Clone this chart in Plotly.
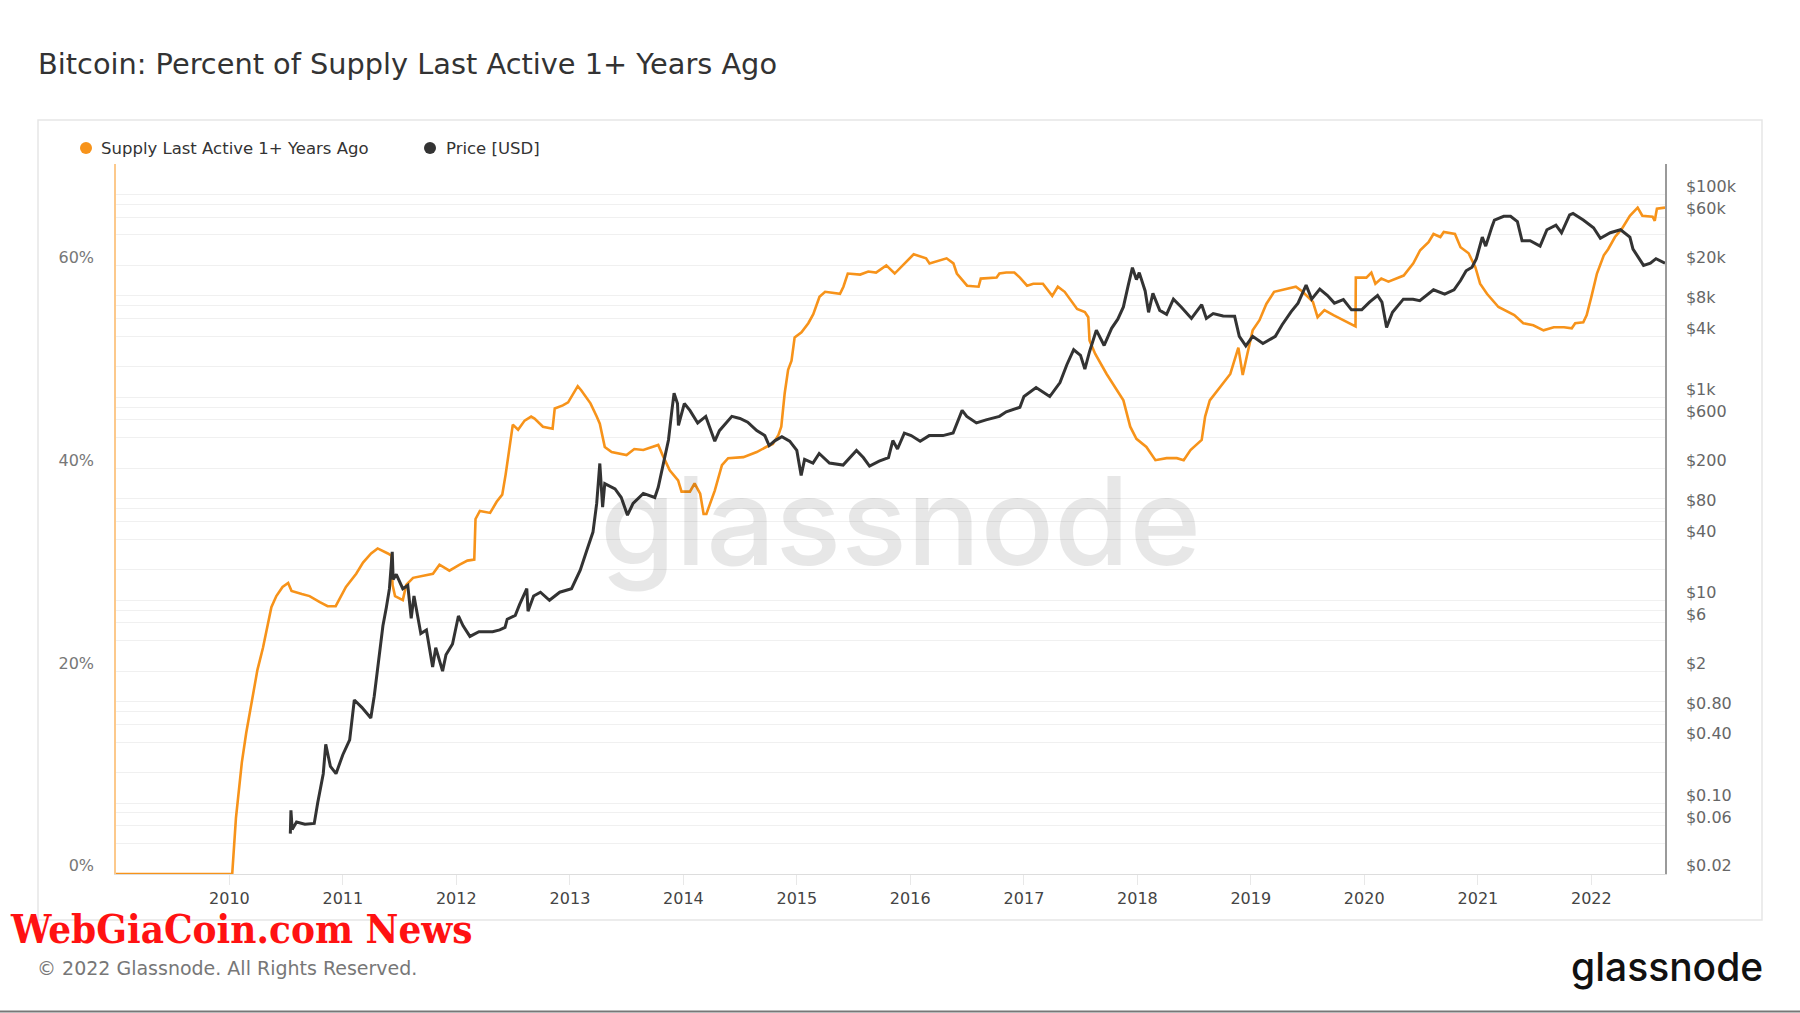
import plotly.graph_objects as go
import math

# ---------------- data ----------------
supply_points = [
    ("2009-01-01", 0.0), ("2010-01-10", 0.0), ("2010-01-22", 5.5), ("2010-02-10", 11.0), ("2010-02-24", 13.9),
    ("2010-03-17", 17.5), ("2010-04-01", 20.1), ("2010-04-19", 22.3), ("2010-05-05", 24.5), ("2010-05-16", 26.3),
    ("2010-06-01", 27.4), ("2010-06-21", 28.3), ("2010-07-09", 28.7), ("2010-07-20", 27.9), ("2010-08-22", 27.6),
    ("2010-09-16", 27.4), ("2010-10-19", 26.8), ("2010-11-13", 26.4), ("2010-12-09", 26.4), ("2011-01-11", 28.3),
    ("2011-02-13", 29.6), ("2011-03-07", 30.7), ("2011-04-02", 31.6), ("2011-04-23", 32.1), ("2011-05-26", 31.6),
    ("2011-06-06", 31.4), ("2011-06-10", 28.5), ("2011-06-18", 27.4), ("2011-07-13", 27.0), ("2011-07-24", 28.5),
    ("2011-08-15", 29.2), ("2011-09-17", 29.4), ("2011-10-18", 29.6), ("2011-11-08", 30.5), ("2011-12-10", 29.9),
    ("2012-01-12", 30.5), ("2012-02-06", 30.9), ("2012-02-28", 31.0), ("2012-03-03", 35.0), ("2012-03-17", 35.8),
    ("2012-04-19", 35.6), ("2012-05-10", 36.7), ("2012-05-28", 37.4), ("2012-06-08", 39.4), ("2012-06-20", 42.0),
    ("2012-07-01", 44.3), ("2012-07-18", 43.8), ("2012-08-08", 44.7), ("2012-08-29", 45.1), ("2012-09-09", 44.9),
    ("2012-10-06", 44.1), ("2012-11-06", 43.9), ("2012-11-13", 45.9), ("2012-12-09", 46.2), ("2012-12-26", 46.5),
    ("2013-01-26", 48.1), ("2013-02-06", 47.7), ("2013-03-08", 46.4), ("2013-03-28", 45.1), ("2013-04-07", 44.4),
    ("2013-04-23", 42.1), ("2013-05-15", 41.6), ("2013-07-02", 41.3), ("2013-07-27", 41.9), ("2013-08-25", 41.8),
    ("2013-10-12", 42.3), ("2013-10-26", 41.3), ("2013-11-18", 39.8), ("2013-12-15", 38.8), ("2013-12-26", 37.7),
    ("2014-01-22", 37.7), ("2014-02-06", 38.5), ("2014-02-24", 37.5), ("2014-03-07", 35.5), ("2014-03-16", 35.5),
    ("2014-04-12", 37.8), ("2014-05-05", 40.3), ("2014-05-25", 41.0), ("2014-07-13", 41.1), ("2014-08-25", 41.6),
    ("2014-09-24", 42.1), ("2014-10-16", 42.4), ("2014-11-03", 43.3), ("2014-11-12", 44.1), ("2014-11-23", 47.4),
    ("2014-12-04", 49.7), ("2014-12-15", 50.6), ("2014-12-20", 51.6), ("2014-12-25", 52.9), ("2015-01-16", 53.4),
    ("2015-02-07", 54.3), ("2015-02-23", 55.2), ("2015-03-15", 56.9), ("2015-04-02", 57.4), ("2015-05-20", 57.2),
    ("2015-05-31", 57.9), ("2015-06-14", 59.2), ("2015-07-24", 59.1), ("2015-08-19", 59.4), ("2015-09-13", 59.3),
    ("2015-10-16", 60.0), ("2015-11-12", 59.2), ("2015-12-10", 60.1), ("2016-01-12", 61.1), ("2016-02-21", 60.7),
    ("2016-03-03", 60.2), ("2016-04-27", 60.7), ("2016-05-19", 60.2), ("2016-05-30", 59.2), ("2016-07-02", 58.0),
    ("2016-08-08", 57.9), ("2016-08-15", 58.7), ("2016-10-05", 58.8), ("2016-10-14", 59.2), ("2016-11-05", 59.3),
    ("2016-12-01", 59.3), ("2016-12-19", 58.8), ("2017-01-11", 58.0), ("2017-01-31", 58.2), ("2017-03-03", 58.2),
    ("2017-04-02", 57.0), ("2017-04-20", 57.9), ("2017-05-12", 57.4), ("2017-05-31", 56.6), ("2017-06-21", 55.7),
    ("2017-07-16", 55.4), ("2017-07-27", 54.9), ("2017-07-31", 52.6), ("2017-08-18", 51.3), ("2017-09-24", 49.3),
    ("2017-10-20", 48.0), ("2017-11-17", 46.7), ("2017-12-09", 44.1), ("2017-12-29", 42.9), ("2018-01-30", 42.1),
    ("2018-02-28", 40.8), ("2018-04-05", 41.0), ("2018-05-08", 41.0), ("2018-05-30", 40.8), ("2018-06-21", 41.8),
    ("2018-07-27", 42.8), ("2018-08-07", 45.1), ("2018-08-22", 46.7), ("2018-09-24", 48.0), ("2018-10-27", 49.3),
    ("2018-11-22", 51.9), ("2018-12-06", 49.2), ("2018-12-21", 51.3), ("2019-01-07", 53.6), ("2019-01-29", 54.6),
    ("2019-02-20", 56.2), ("2019-03-17", 57.4), ("2019-04-27", 57.7), ("2019-05-26", 57.9), ("2019-06-17", 57.4),
    ("2019-07-20", 56.4), ("2019-08-04", 54.9), ("2019-08-26", 55.6), ("2019-09-24", 55.1), ("2019-10-27", 54.6),
    ("2019-11-25", 54.1), ("2019-12-04", 54.0), ("2019-12-05", 58.8), ("2020-01-08", 58.8), ("2020-01-24", 59.3),
    ("2020-02-06", 58.2), ("2020-02-25", 58.7), ("2020-03-19", 58.4), ("2020-05-07", 59.0), ("2020-06-07", 60.2),
    ("2020-06-29", 61.5), ("2020-07-26", 62.3), ("2020-08-11", 63.1), ("2020-09-02", 62.8), ("2020-09-13", 63.3),
    ("2020-10-19", 63.1), ("2020-11-06", 61.8), ("2020-12-02", 61.2), ("2020-12-24", 59.8), ("2021-01-08", 58.2),
    ("2021-01-30", 57.2), ("2021-03-08", 55.9), ("2021-04-28", 55.1), ("2021-05-27", 54.3), ("2021-06-28", 54.1),
    ("2021-07-31", 53.6), ("2021-09-02", 53.9), ("2021-10-05", 53.9), ("2021-10-30", 53.8), ("2021-11-10", 54.3),
    ("2021-12-06", 54.4), ("2021-12-17", 55.1), ("2022-01-01", 56.9), ("2022-01-19", 59.2), ("2022-02-10", 61.0),
    ("2022-02-24", 61.6), ("2022-03-18", 62.8), ("2022-04-09", 63.6), ("2022-05-05", 64.9), ("2022-05-30", 65.7),
    ("2022-06-14", 64.9), ("2022-07-17", 64.8), ("2022-07-24", 64.4), ("2022-07-31", 65.6), ("2022-08-26", 65.7),
]

price_points = [
    ("2010-07-16", 0.05), ("2010-07-18", 0.085), ("2010-07-22", 0.055), ("2010-08-05", 0.065), ("2010-09-01", 0.062),
    ("2010-10-01", 0.063), ("2010-10-12", 0.10), ("2010-10-30", 0.195), ("2010-11-07", 0.38), ("2010-11-22", 0.23),
    ("2010-12-10", 0.195), ("2011-01-01", 0.30), ("2011-01-23", 0.42), ("2011-02-07", 1.04), ("2011-03-03", 0.88),
    ("2011-04-01", 0.69), ("2011-04-12", 1.13), ("2011-04-23", 2.04), ("2011-05-01", 3.4), ("2011-05-10", 5.6),
    ("2011-05-21", 8.5), ("2011-05-31", 13), ("2011-06-09", 30), ("2011-06-12", 16), ("2011-06-22", 18),
    ("2011-07-13", 13), ("2011-07-29", 14), ("2011-08-09", 6.65), ("2011-08-18", 11), ("2011-09-09", 4.7),
    ("2011-09-27", 5.1), ("2011-10-17", 2.2), ("2011-10-27", 3.4), ("2011-11-18", 2.0), ("2011-11-29", 2.9),
    ("2011-12-20", 3.7), ("2012-01-08", 7.0), ("2012-01-23", 5.6), ("2012-02-14", 4.4), ("2012-03-14", 4.9),
    ("2012-04-27", 4.9), ("2012-05-20", 5.1), ("2012-06-06", 5.4), ("2012-06-13", 6.5), ("2012-07-09", 7.1),
    ("2012-07-23", 9.1), ("2012-08-15", 13), ("2012-08-19", 7.8), ("2012-09-06", 11), ("2012-09-28", 12),
    ("2012-10-27", 10), ("2012-11-29", 12), ("2013-01-06", 13), ("2013-02-03", 19.8), ("2013-02-24", 31),
    ("2013-03-16", 47), ("2013-03-28", 90), ("2013-04-07", 223), ("2013-04-16", 83), ("2013-04-23", 141),
    ("2013-05-26", 125), ("2013-06-15", 103), ("2013-07-05", 69), ("2013-07-23", 90), ("2013-08-25", 113),
    ("2013-10-01", 103), ("2013-10-12", 130), ("2013-10-26", 206), ("2013-11-14", 380), ("2013-11-25", 745),
    ("2013-12-02", 1100), ("2013-12-13", 870), ("2013-12-16", 530), ("2014-01-04", 870), ("2014-01-22", 745),
    ("2014-02-16", 560), ("2014-03-14", 650), ("2014-04-12", 370), ("2014-04-27", 470), ("2014-06-06", 650),
    ("2014-07-02", 620), ("2014-07-27", 570), ("2014-08-25", 470), ("2014-09-20", 420), ("2014-10-04", 335),
    ("2014-10-23", 375), ("2014-11-14", 410), ("2014-12-09", 370), ("2015-01-01", 300), ("2015-01-15", 170),
    ("2015-01-26", 245), ("2015-02-22", 225), ("2015-03-14", 280), ("2015-04-16", 225), ("2015-05-30", 215),
    ("2015-07-12", 300), ("2015-08-03", 255), ("2015-08-23", 210), ("2015-09-23", 235), ("2015-10-23", 255),
    ("2015-11-06", 375), ("2015-11-21", 310), ("2015-12-13", 445), ("2016-01-04", 420), ("2016-02-02", 370),
    ("2016-03-02", 420), ("2016-04-15", 420), ("2016-05-18", 445), ("2016-06-01", 560), ("2016-06-16", 745),
    ("2016-07-01", 650), ("2016-08-01", 560), ("2016-09-01", 600), ("2016-10-14", 650), ("2016-11-05", 720),
    ("2016-12-19", 800), ("2017-01-01", 1020), ("2017-02-09", 1250), ("2017-03-25", 1020), ("2017-04-27", 1400),
    ("2017-05-19", 2100), ("2017-06-10", 2950), ("2017-07-02", 2600), ("2017-07-16", 1900), ("2017-07-31", 2820),
    ("2017-08-22", 4600), ("2017-09-16", 3250), ("2017-10-10", 4800), ("2017-10-30", 5900), ("2017-11-17", 7800),
    ("2017-12-02", 12500), ("2017-12-16", 19000), ("2017-12-29", 14500), ("2018-01-07", 17000), ("2018-01-26", 11200),
    ("2018-02-06", 6900), ("2018-02-20", 10600), ("2018-03-14", 7200), ("2018-04-05", 6600), ("2018-04-27", 9300),
    ("2018-05-22", 7800), ("2018-06-24", 6000), ("2018-07-27", 8200), ("2018-08-11", 6000), ("2018-09-02", 6700),
    ("2018-10-04", 6350), ("2018-11-10", 6300), ("2018-11-25", 4000), ("2018-12-16", 3220), ("2019-01-07", 4000),
    ("2019-02-09", 3400), ("2019-03-21", 4000), ("2019-04-12", 5200), ("2019-05-11", 7000), ("2019-06-02", 8500),
    ("2019-06-28", 12800), ("2019-07-16", 9300), ("2019-08-11", 11700), ("2019-09-05", 10100), ("2019-09-27", 8500),
    ("2019-10-26", 9200), ("2019-11-21", 7300), ("2019-12-24", 7300), ("2020-01-18", 8700), ("2020-02-13", 10100),
    ("2020-02-27", 8700), ("2020-03-13", 4900), ("2020-04-01", 6900), ("2020-05-06", 9300), ("2020-06-06", 9300),
    ("2020-06-28", 9000), ("2020-08-11", 11500), ("2020-09-16", 10400), ("2020-10-16", 11500), ("2020-11-06", 14200),
    ("2020-11-24", 17700), ("2020-12-13", 19200), ("2020-12-27", 23300), ("2021-01-15", 38000), ("2021-01-26", 31000),
    ("2021-02-15", 48000), ("2021-02-23", 56000), ("2021-03-25", 61000), ("2021-04-16", 61000), ("2021-05-08", 54000),
    ("2021-05-23", 35000), ("2021-06-18", 35000), ("2021-07-20", 31000), ("2021-08-11", 45000), ("2021-09-09", 50000),
    ("2021-09-27", 42000), ("2021-10-23", 63000), ("2021-11-03", 65000), ("2021-12-06", 56000), ("2022-01-08", 47000),
    ("2022-01-30", 37000), ("2022-03-03", 42000), ("2022-04-05", 45000), ("2022-05-05", 38000), ("2022-05-15", 29000),
    ("2022-06-18", 20000), ("2022-07-10", 21000), ("2022-07-28", 23300), ("2022-08-20", 21500), ("2022-08-26", 21000),
]

supply_dates = [d for d, _ in supply_points]
supply_pct = [v for _, v in supply_points]
price_dates = [d for d, _ in price_points]
price_usd = [v for _, v in price_points]

pct_tick_vals = [0, 10, 20, 30, 40, 50, 60, 70]
pct_tick_text = ["0%", "", "20%", "", "40%", "", "60%", ""]

price_tick_vals = [0.02, 0.04, 0.06, 0.08, 0.1, 0.2, 0.4, 0.6, 0.8, 1, 2, 4, 6, 8, 10, 20, 40, 60, 80,
                   100, 200, 400, 600, 800, 1000, 2000, 4000, 6000, 8000, 10000, 20000, 40000, 60000,
                   80000, 100000, 200000]
price_tick_text = ["$0.02", "", "$0.06", "", "$0.10", "", "$0.40", "", "$0.80", "", "$2", "", "$6", "",
                   "$10", "", "$40", "", "$80", "", "$200", "", "$600", "", "$1k", "", "$4k", "", "$8k",
                   "", "$20k", "", "$60k", "", "$100k", ""]

year_ticks = ["%d-01-01" % y for y in range(2010, 2023)]
year_labels = [str(y) for y in range(2010, 2023)]

series_names = ["Supply Last Active 1+ Years Ago", "Price [USD]"]

ORANGE = "#f7931a"
DARK = "#333333"
FONT = "DejaVu Sans, Inter, sans-serif"
LOGO_FONT = "Inter, Roboto, sans-serif"

fig = go.Figure()

fig.add_trace(go.Scatter(x=supply_dates, y=supply_pct, mode="lines", name=series_names[0],
                         line=dict(color=ORANGE, width=2.6), showlegend=False, yaxis="y"))
fig.add_trace(go.Scatter(x=price_dates, y=price_usd, mode="lines", name=series_names[1],
                         line=dict(color=DARK, width=3), showlegend=False, yaxis="y2"))

W, H = 1800, 1013
L, R, T, B = 116, 1665, 164, 874
pw, ph = R - L, B - T


def px(x):
    return (x - L) / pw


def py(y):
    return (B - y) / ph


fig.update_layout(
    width=W, height=H,
    margin=dict(l=L, r=W - R, t=T, b=H - B, pad=0),
    paper_bgcolor="white", plot_bgcolor="white",
    font=dict(family=FONT, color="#333"),
    showlegend=False,
    xaxis=dict(type="date", range=["2009-01-01", "2022-08-26"], tickvals=year_ticks, ticktext=year_labels,
               showgrid=False, zeroline=False, showline=True, linecolor="#dddddd", linewidth=1,
               ticks="outside", ticklen=10, tickcolor="#e8e8e8", tickwidth=1,
               tickfont=dict(size=16, color="#444", family=FONT)),
    yaxis=dict(range=[0, 70], tickvals=pct_tick_vals, ticktext=pct_tick_text, showgrid=True,
               gridcolor="#e4e4e4", gridwidth=1, zeroline=False, showline=True, linecolor="#fcc98c",
               linewidth=1.5, ticks="", ticklabelposition="outside top", ticklabelstandoff=17,
               ticklabelshift=3, tickfont=dict(size=16, color="#777", family=FONT)),
    yaxis2=dict(type="log", range=[math.log10(0.02), math.log10(200000)], overlaying="y", side="right",
                tickvals=price_tick_vals, ticktext=price_tick_text, showgrid=True, gridcolor="#f0f0f0",
                gridwidth=1, zeroline=False, showline=True, linecolor="#9a9a9a", linewidth=1.5, ticks="",
                ticklabelposition="outside top", ticklabelstandoff=16, ticklabelshift=3,
                tickfont=dict(size=16, color="#666", family=FONT)),
)

# chart card border and bottom screen line
fig.add_shape(type="rect", xref="paper", yref="paper", x0=px(38), x1=px(1762), y0=py(920), y1=py(120),
              line=dict(color="#e6e6e6", width=1.5), fillcolor="rgba(0,0,0,0)", layer="below")
fig.add_shape(type="line", xref="paper", yref="paper", x0=px(0), x1=px(1800), y0=py(1011.5), y1=py(1011.5),
              line=dict(color="#777777", width=2))

# legend (dots + labels)
legend_items = [(86, 100, ORANGE, series_names[0]), (430, 445, DARK, series_names[1])]
for dot_x, text_x, col, label in legend_items:
    fig.add_shape(type="circle", xref="paper", yref="paper", x0=px(dot_x - 6), x1=px(dot_x + 6),
                  y0=py(148 + 6), y1=py(148 - 6), fillcolor=col, line=dict(width=0))
    fig.add_annotation(xref="paper", yref="paper", showarrow=False, text=label, x=px(text_x - 1), y=py(148),
                       xanchor="left", yanchor="middle", font=dict(size=16.5, color="#333", family=FONT))

annotations = [
    dict(text="glassnode", x=px(900), y=py(520), xanchor="center", yanchor="middle",
         font=dict(size=122, color="rgba(0,0,0,0.095)", family=LOGO_FONT, weight=500)),
    dict(text="Bitcoin: Percent of Supply Last Active 1+ Years Ago", x=px(35.5), y=py(64), xanchor="left",
         yanchor="middle", font=dict(size=28.8, color="#333", family=FONT)),
    dict(text="WebGiaCoin.com News", x=px(8), y=py(929), xanchor="left", yanchor="middle",
         font=dict(size=40, color="#ff1212", family="DejaVu Serif Condensed, DejaVu Serif, serif",
                   weight="bold")),
    dict(text="© 2022 Glassnode. All Rights Reserved.", x=px(35.2), y=py(968), xanchor="left",
         yanchor="middle", font=dict(size=19, color="#777", family=FONT)),
    dict(text="glassnode", x=px(1765.5), y=py(966), xanchor="right", yanchor="middle",
         font=dict(size=39, color="#111", family=LOGO_FONT, weight=500)),
]
for a in annotations:
    fig.add_annotation(xref="paper", yref="paper", showarrow=False, **a)

fig.write_html("out.html", config={"displayModeBar": False},
               post_script="document.body.style.margin='0';document.body.style.overflow='hidden';")
